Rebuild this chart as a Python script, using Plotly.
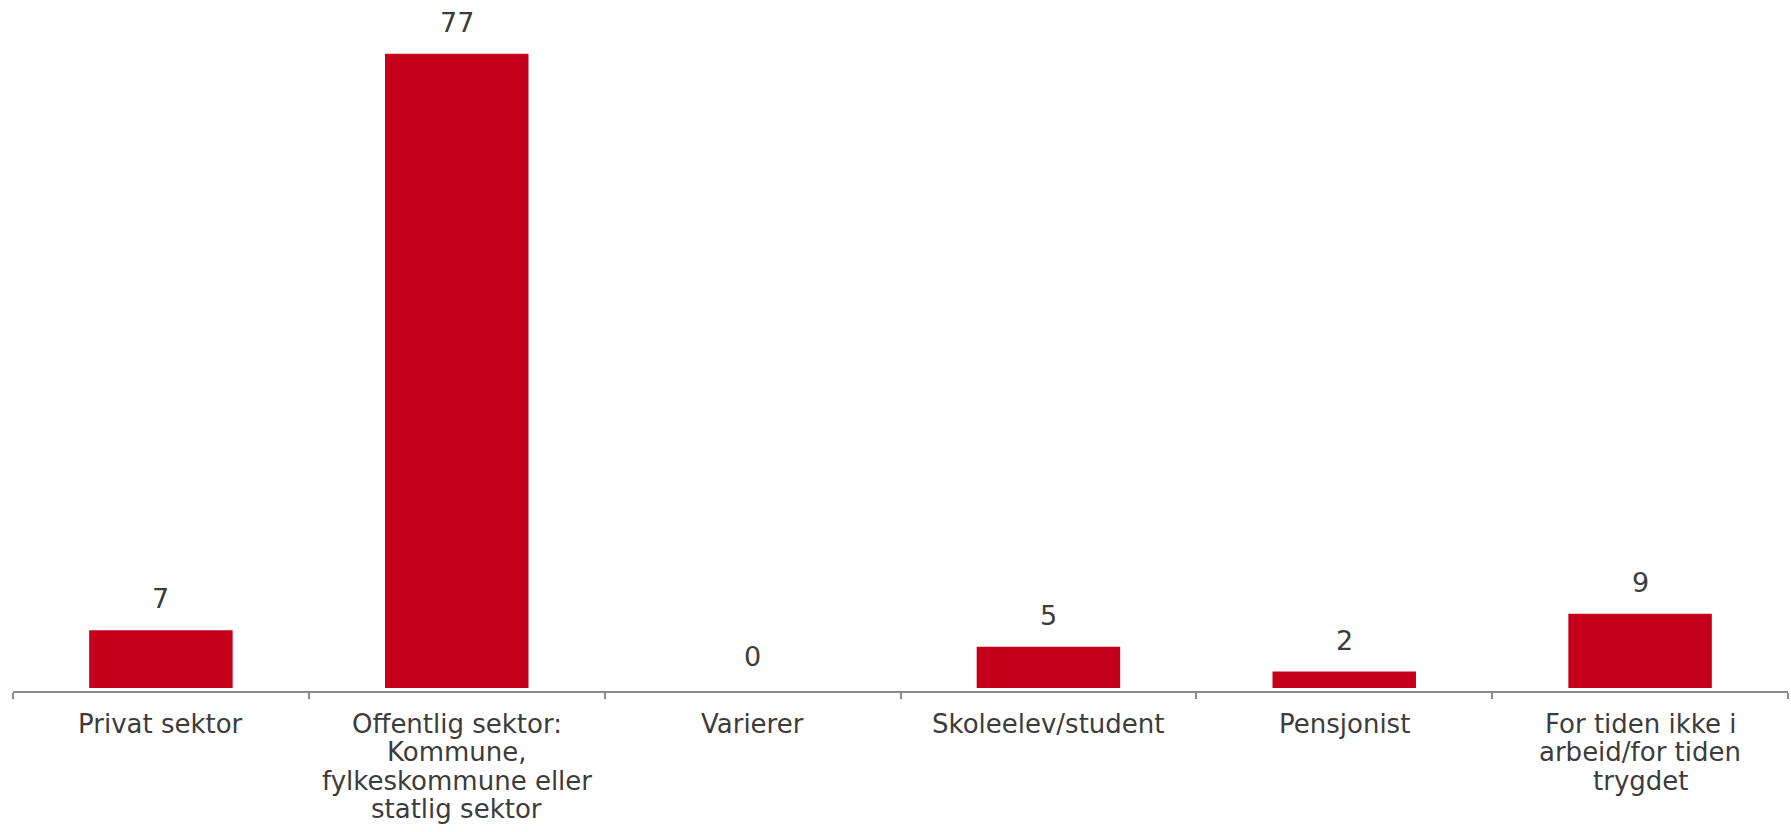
import plotly.graph_objects as go

# Categories and percentage values
categories = [
    "Privat sektor",
    "Offentlig sektor: Kommune, fylkeskommune eller statlig sektor",
    "Varierer",
    "Skoleelev/student",
    "Pensjonist",
    "For tiden ikke i arbeid/for tiden trygdet",
]
# Category labels broken into lines as displayed under the axis
label_lines = [
    ["Privat sektor"],
    ["Offentlig sektor:", "Kommune,", "fylkeskommune eller", "statlig sektor"],
    ["Varierer"],
    ["Skoleelev/student"],
    ["Pensjonist"],
    ["For tiden ikke i", "arbeid/for tiden", "trygdet"],
]
values = [7, 77, 0, 5, 2, 9]

BAR_COLOR = "#C5001A"
AXIS_COLOR = "#8C8C8C"
TEXT_COLOR = "#3C3C3C"
FONT = "DejaVu Sans"
LABEL_SIZE = 26
LINE_STEP = 28.3

fig = go.Figure(
    go.Bar(
        x=categories,
        y=values,
        marker=dict(color=BAR_COLOR, line=dict(width=0)),
        hoverinfo="skip",
    )
)

# Value labels above each bar
for c, v in zip(categories, values):
    fig.add_annotation(
        x=c, y=v, text=str(v), showarrow=False,
        yanchor="bottom", yshift=14,
        font=dict(family=FONT, size=27, color=TEXT_COLOR),
    )

# Category labels below the axis, one annotation per line for tight spacing
for c, lines in zip(categories, label_lines):
    for i, line in enumerate(lines):
        fig.add_annotation(
            x=c, xref="x", y=0, yref="paper", text=line, showarrow=False,
            yanchor="top", yshift=-(16 + i * LINE_STEP),
            font=dict(family=FONT, size=LABEL_SIZE, color=TEXT_COLOR),
        )

fig.update_layout(
    width=1791, height=832,
    margin=dict(l=13, r=3, t=29, b=141),
    paper_bgcolor="white", plot_bgcolor="white",
    bargap=0.515,
    showlegend=False,
    font=dict(family=FONT, color=TEXT_COLOR),
)
fig.update_xaxes(
    type="category",
    showline=True, linecolor=AXIS_COLOR, linewidth=2,
    ticks="outside", tickson="boundaries", ticklen=6,
    tickcolor=AXIS_COLOR, tickwidth=2,
    showticklabels=False,
    showgrid=False, zeroline=False,
)
fig.update_yaxes(
    range=[-0.364, 80],
    visible=False, showgrid=False, zeroline=False,
)

fig.write_html("out.html")
